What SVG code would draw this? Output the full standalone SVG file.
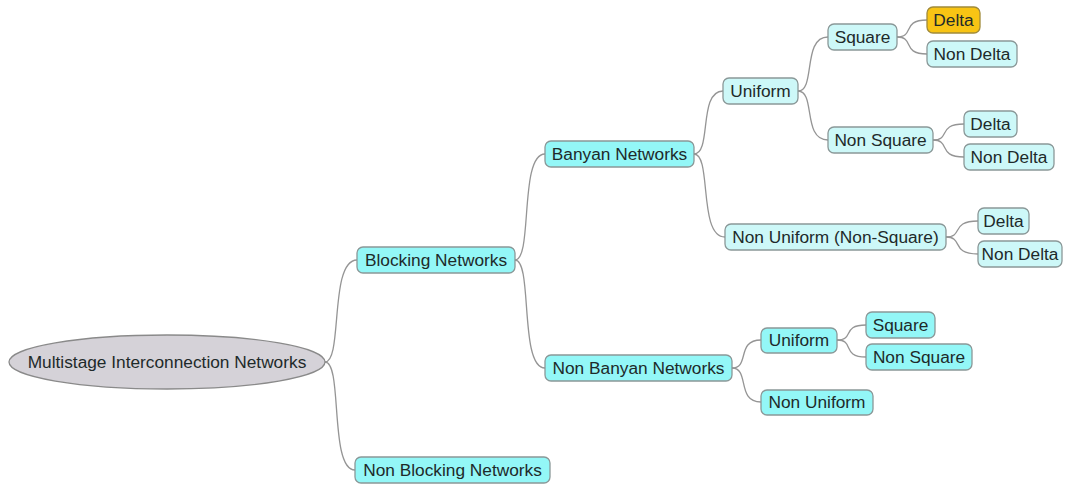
<svg xmlns="http://www.w3.org/2000/svg" width="1065" height="486" viewBox="0 0 1065 486">
<style>
.n rect{stroke:#8a9898;stroke-width:1.3}
.a rect{fill:#93f7f7}
.p rect{fill:#cdf8f8}
.o rect{fill:#f8c414;stroke:#a08a3a}
text{font-family:"Liberation Sans",Arial,sans-serif;font-size:17.3px;fill:#1e2a2a;text-anchor:middle}
#connectors path{fill:none;stroke:#959595;stroke-width:1.3}
</style>
<rect width="1065" height="486" fill="#ffffff"/>
<g id="connectors">
<path d="M325 362 C343 362,329 260,357 260"/>
<path d="M325 362 C343 362,329 470,355 470"/>
<path d="M515 260 C533 260,519 154,545 154"/>
<path d="M515 260 C533 260,519 368,545 368"/>
<path d="M694 154 C712 154,698 91,723 91"/>
<path d="M694 154 C712 154,698 237,725 237"/>
<path d="M798 91 C816 91,802 37,828 37"/>
<path d="M798 91 C816 91,802 140,828 140"/>
<path d="M897 37 C915 37,901 20,927 20"/>
<path d="M897 37 C915 37,901 54,927 54"/>
<path d="M933 140 C951 140,937 124,964 124"/>
<path d="M933 140 C951 140,937 157,964 157"/>
<path d="M946 237 C964 237,950 221,978 221"/>
<path d="M946 237 C964 237,950 254,978 254"/>
<path d="M732 368 C750 368,736 340,761 340"/>
<path d="M732 368 C750 368,736 402,761 402"/>
<path d="M837 340 C855 340,841 325,866 325"/>
<path d="M837 340 C855 340,841 357,866 357"/>
</g>
<g id="root"><ellipse cx="167" cy="362" rx="158" ry="27" fill="#d5d2d8" stroke="#8a8a8a" stroke-width="1.3"/><text x="167" y="368">Multistage Interconnection Networks</text></g>
<g id="blocking" class="n a"><rect x="357" y="247" width="158" height="26" rx="6"/><text x="436" y="266">Blocking Networks</text></g>
<g id="nonblocking" class="n a"><rect x="355" y="457" width="195" height="26" rx="6"/><text x="452.5" y="476">Non Blocking Networks</text></g>
<g id="banyan" class="n a"><rect x="545" y="141" width="149" height="26" rx="6"/><text x="619.5" y="160">Banyan Networks</text></g>
<g id="nonbanyan" class="n a"><rect x="545" y="355" width="187" height="26" rx="6"/><text x="638.5" y="374">Non Banyan Networks</text></g>
<g id="uniformB" class="n p"><rect x="723" y="78" width="75" height="26" rx="6"/><text x="760.5" y="97">Uniform</text></g>
<g id="nonuniformNS" class="n p"><rect x="725" y="224" width="221" height="26" rx="6"/><text x="835.5" y="243">Non Uniform (Non-Square)</text></g>
<g id="square" class="n p"><rect x="828" y="24" width="69" height="26" rx="6"/><text x="862.5" y="43">Square</text></g>
<g id="delta1" class="n o"><rect x="927" y="7" width="53" height="26" rx="6"/><text x="953.5" y="26">Delta</text></g>
<g id="nondelta1" class="n p"><rect x="927" y="41" width="90" height="26" rx="6"/><text x="972" y="60">Non Delta</text></g>
<g id="nonsquare" class="n p"><rect x="828" y="127" width="105" height="26" rx="6"/><text x="880.5" y="146">Non Square</text></g>
<g id="delta2" class="n p"><rect x="964" y="111" width="53" height="26" rx="6"/><text x="990.5" y="130">Delta</text></g>
<g id="nondelta2" class="n p"><rect x="964" y="144" width="90" height="26" rx="6"/><text x="1009" y="163">Non Delta</text></g>
<g id="delta3" class="n p"><rect x="978" y="208" width="51" height="26" rx="6"/><text x="1003.5" y="227">Delta</text></g>
<g id="nondelta3" class="n p"><rect x="978" y="241" width="84" height="26" rx="6"/><text x="1020" y="260">Non Delta</text></g>
<g id="uniformNB" class="n a"><rect x="761" y="328" width="76" height="25" rx="6"/><text x="799" y="346">Uniform</text></g>
<g id="squareNB" class="n a"><rect x="866" y="312" width="69" height="26" rx="6"/><text x="900.5" y="331">Square</text></g>
<g id="nonsquareNB" class="n a"><rect x="866" y="344" width="106" height="26" rx="6"/><text x="919" y="363">Non Square</text></g>
<g id="nonuniformNB" class="n a"><rect x="761" y="390" width="112" height="25" rx="6"/><text x="817" y="408">Non Uniform</text></g>
</svg>
